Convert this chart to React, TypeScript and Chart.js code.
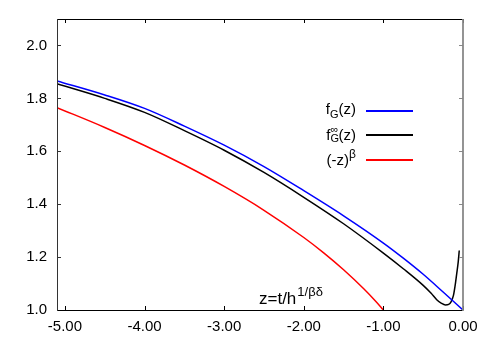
import React, { useEffect, useRef } from "react";
import { Chart, registerables } from "chart.js";

Chart.register(...registerables);

// ---- data ----
const blueZ = [-5.1, -4.5, -4.0, -3.5, -3.0, -2.5, -2.0, -1.5, -1.0, -0.75, -0.5, -0.25, 0.0];
const blueF = [1.866, 1.813, 1.762, 1.695, 1.623, 1.542, 1.451, 1.356, 1.253, 1.196, 1.135, 1.068, 1.0];

const blackZ = [-5.1, -4.5, -4.0, -3.5, -3.0, -2.5, -2.0, -1.5, -1.0, -0.75, -0.5, -0.4, -0.33, -0.27, -0.22, -0.18, -0.15, -0.12, -0.1, -0.08, -0.06, -0.047];
const blackF = [1.855, 1.8, 1.747, 1.678, 1.604, 1.52, 1.426, 1.326, 1.215, 1.156, 1.093, 1.063, 1.039, 1.025, 1.019, 1.021, 1.031, 1.055, 1.09, 1.135, 1.182, 1.225];

const redZ = [-5.1, -4.5, -4.0, -3.5, -3.0, -2.5, -2.0, -1.75, -1.5, -1.25, -1.1, -1.0];
const redF = [1.765, 1.69, 1.622, 1.548, 1.467, 1.377, 1.274, 1.216, 1.152, 1.081, 1.034, 1.0];

const xTicks = [-5, -4, -3, -2, -1, 0];
const yTicks = [1.0, 1.2, 1.4, 1.6, 1.8, 2.0];

const toPts = (zs: number[], fs: number[]) => zs.map((z, i) => ({ x: z, y: fs[i] }));

const FONT = '"Liberation Sans", Arial, Helvetica, sans-serif';

const framePlugin = {
  id: "frame",
  afterDatasetsDraw(chart: any) {
    const { ctx, chartArea, scales } = chart;
    const { left, right, top, bottom } = chartArea;
    const x = scales.x;
    const y = scales.y;
    ctx.save();
    ctx.lineWidth = 1;
    ctx.strokeStyle = "#000";
    ctx.beginPath();
    xTicks.forEach((v) => {
      const px = Math.round(x.getPixelForValue(v)) + 0.5;
      ctx.moveTo(px, bottom);
      ctx.lineTo(px, bottom - 4);
      ctx.moveTo(px, top);
      ctx.lineTo(px, top + 4);
    });
    ctx.stroke();
    ctx.strokeStyle = "#333";
    ctx.beginPath();
    yTicks.forEach((v) => {
      const py = Math.round(y.getPixelForValue(v)) + 0.5;
      ctx.moveTo(left, py);
      ctx.lineTo(left + 4, py);
    });
    ctx.stroke();
    ctx.strokeStyle = "#888";
    ctx.beginPath();
    yTicks.forEach((v) => {
      const py = Math.round(y.getPixelForValue(v)) + 0.5;
      ctx.moveTo(right, py);
      ctx.lineTo(right - 4, py);
    });
    ctx.stroke();
    ctx.strokeStyle = "#000";
    ctx.beginPath();
    ctx.moveTo(left, top + 0.5);
    ctx.lineTo(right, top + 0.5);
    ctx.moveTo(left, bottom + 0.5);
    ctx.lineTo(right, bottom + 0.5);
    ctx.stroke();
    ctx.strokeStyle = "#333";
    ctx.beginPath();
    ctx.moveTo(Math.round(left) + 0.5, top);
    ctx.lineTo(Math.round(left) + 0.5, bottom + 1);
    ctx.stroke();
    ctx.strokeStyle = "#888";
    ctx.lineWidth = 1.8;
    ctx.beginPath();
    ctx.moveTo(right, top);
    ctx.lineTo(right, bottom + 1);
    ctx.stroke();
    ctx.restore();
  },
};

export default function App() {
  const ref = useRef<HTMLCanvasElement | null>(null);

  useEffect(() => {
    if (!ref.current) return;
    const chart = new Chart(ref.current, {
      type: "scatter",
      data: {
        datasets: [
          {
            label: "fG",
            data: toPts(blueZ, blueF),
            showLine: true,
            borderColor: "#0000ff",
            borderWidth: 1.5,
            pointRadius: 0,
            cubicInterpolationMode: "monotone",
          },
          {
            label: "fGinf",
            data: toPts(blackZ, blackF),
            showLine: true,
            borderColor: "#000000",
            borderWidth: 1.5,
            pointRadius: 0,
            cubicInterpolationMode: "monotone",
          },
          {
            label: "power",
            data: toPts(redZ, redF),
            showLine: true,
            borderColor: "#ff0000",
            borderWidth: 1.5,
            pointRadius: 0,
            cubicInterpolationMode: "monotone",
          },
        ],
      },
      options: {
        animation: false,
        responsive: false,
        maintainAspectRatio: false,
        layout: { padding: { top: 19, right: 28, left: 0, bottom: 0 } },
        plugins: { legend: { display: false }, tooltip: { enabled: false } },
        scales: {
          x: {
            type: "linear",
            min: -5.1,
            max: 0,
            grid: { display: false, drawTicks: false },
            border: { display: false },
            afterBuildTicks: (s: any) => {
              s.ticks = xTicks.map((v) => ({ value: v }));
            },
            afterFit: (s: any) => {
              s.height = 33;
            },
            ticks: {
              padding: 8,
              maxRotation: 0,
              autoSkip: false,
              color: "#000",
              font: { family: FONT, size: 15 },
              callback: (v: any) => Number(v).toFixed(2),
            },
          },
          y: {
            type: "linear",
            min: 1.0,
            max: 2.1,
            grid: { display: false, drawTicks: false },
            border: { display: false },
            afterBuildTicks: (s: any) => {
              s.ticks = yTicks.map((v) => ({ value: v }));
            },
            afterFit: (s: any) => {
              s.width = 57;
            },
            ticks: {
              padding: 10,
              autoSkip: false,
              color: "#000",
              font: { family: FONT, size: 15 },
              callback: (v: any) => Number(v).toFixed(1),
            },
          },
        },
      },
      plugins: [framePlugin],
    } as any);
    return () => chart.destroy();
  }, []);

  const txt: React.CSSProperties = {
    position: "absolute",
    fontFamily: FONT,
    fontSize: 15,
    lineHeight: "16px",
    color: "#000",
    whiteSpace: "nowrap",
  };
  const line = (top: number, color: string, h: number): React.CSSProperties => ({
    position: "absolute",
    left: 366,
    width: 47,
    top: top - h / 2,
    height: h,
    background: color,
  });

  return (
    <div style={{ position: "fixed", left: 0, top: 0, width: 491, height: 343, background: "#fff" }}>
      <canvas ref={ref} width={491} height={343} style={{ position: "absolute", left: 0, top: 0, width: 491, height: 343 }} />
      {/* legend */}
      <div style={{ ...txt, right: 135, top: 101 }}>
        f<span style={{ fontSize: 11, position: "relative", top: 4 }}>G</span>(z)
      </div>
      <div style={line(110.5, "#0000ff", 2)} />
      <div style={{ ...txt, right: 135, top: 126 }}>
        f
        <span style={{ display: "inline-block", position: "relative", width: 8, height: 14 }}>
          <span style={{ position: "absolute", left: 0, top: -5, fontSize: 11 }}>∞</span>
          <span style={{ position: "absolute", left: 0, top: 4, fontSize: 11 }}>G</span>
        </span>
        (z)
      </div>
      <div style={line(135, "#000000", 1.5)} />
      <div style={{ ...txt, right: 135, top: 152 }}>
        (-z)<span style={{ fontSize: 12, position: "relative", top: -7 }}>β</span>
      </div>
      <div style={line(160, "#ff0000", 2)} />
      {/* axis label */}
      <div style={{ ...txt, left: 259, top: 290, fontSize: 17, lineHeight: "18px" }}>
        z=t/h<span style={{ fontSize: 13, position: "relative", top: -8, marginLeft: 1 }}>1/βδ</span>
      </div>
    </div>
  );
}
